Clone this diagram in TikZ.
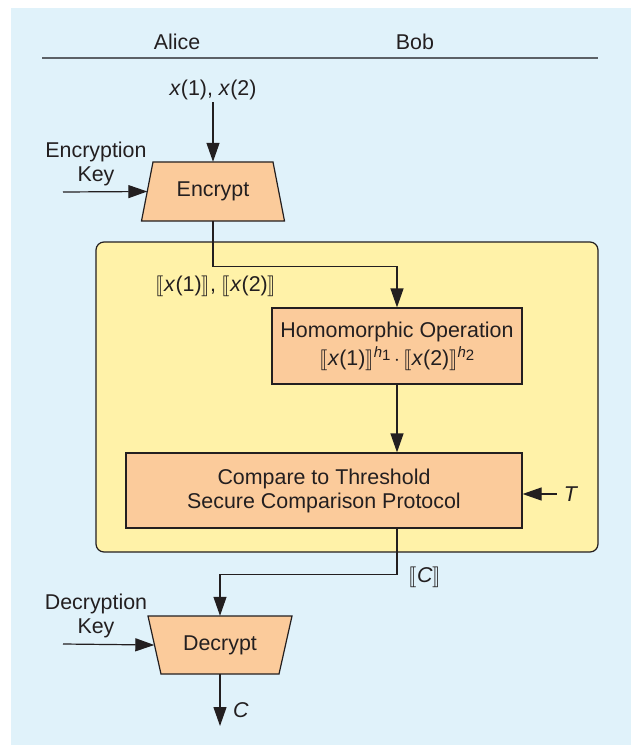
\documentclass[tikz,border=0pt]{standalone}
\usepackage{fontspec}
\setmainfont{Liberation Sans}
\usepackage{stmaryrd}
\usetikzlibrary{arrows.meta}
\definecolor{bgblue}{HTML}{E0F2FA}
\definecolor{zoneyellow}{HTML}{FFF2A8}
\definecolor{boxorange}{HTML}{FBCB9B}
\definecolor{ink}{HTML}{231F20}
\definecolor{rulegray}{HTML}{5C6166}
\newcommand{\lbk}{\ensuremath{\llbracket}}
\newcommand{\rbk}{\ensuremath{\rrbracket}}
\newcommand{\hexp}[1]{\raisebox{8pt}{\fontsize{15}{15}\selectfont\textit{h}\raisebox{-3pt}{#1}}}
\begin{document}
\begin{tikzpicture}[x=1pt,y=-1pt,
  txt/.style={text=ink,font=\fontsize{21.4}{24}\selectfont,inner sep=2pt,align=center},
  blockbox/.style={draw=ink,line width=1.2pt,fill=boxorange,txt,inner sep=0pt},
  holder/.style={txt,inner sep=0pt},
  arr/.style={draw=ink,line width=1.2pt,-{Triangle[length=19pt,width=13pt]}},
  wire/.style={draw=ink,line width=1.2pt}]
\useasboundingbox (0,0) rectangle (635,746);
\fill[bgblue] (11,8) rectangle (631,745);

% party header
\node[txt] (alice) at (177,42) {Alice};
\node[txt] (bob) at (415,42) {Bob};
\draw[rulegray,line width=2pt] (42,58) -- (598,58);

% Bob's secure zone
\draw[ink,line width=1.2pt,fill=zoneyellow,rounded corners=8pt] (96,242) rectangle (598,552);

% encryption stage
\filldraw[draw=ink,line width=1.2pt,fill=boxorange]
  (153,162) -- (273,162) -- (284.5,221) -- (141.5,221) -- cycle;
\node[holder,minimum width=131pt,minimum height=59pt] (enc) at (213,191.5) {Encrypt};
\node[txt] (inp) at (213,90) {\textit{x}(1), \textit{x}(2)};
\node[txt,align=center] (ekeylbl) at (96,164) {Encryption\\Key};
\coordinate (ekey) at (63,192);

% homomorphic operation
\node[blockbox,minimum width=250pt,minimum height=76pt] (hom) at (397,346)
  {Homomorphic Operation\\[4pt]
   \lbk\textit{x}(1)\rbk\hexp{1}\,$\cdot$\,\lbk\textit{x}(2)\rbk\hexp{2}};
\node[txt] (enclbl) at (216,286) {\lbk\textit{x}(1)\rbk, \lbk\textit{x}(2)\rbk};

% threshold comparison
\node[blockbox,minimum width=396pt,minimum height=75pt] (cmp) at (324,490.5)
  {Compare to Threshold\\Secure Comparison Protocol};
\node[txt,inner sep=1pt] (thr) at (571,494) {\textit{T}};

% decryption stage
\filldraw[draw=ink,line width=1.2pt,fill=boxorange]
  (148,616) -- (292,616) -- (279,674) -- (161,674) -- cycle;
\node[holder,minimum width=131pt,minimum height=58pt] (dec) at (220,645) {Decrypt};
\node[txt,align=center] (dkeylbl) at (96,616) {Decryption\\Key};
\coordinate (dkey) at (63,644);
\node[txt] (clbl) at (425,577) {\lbk\textit{C}\rbk};
\node[txt] (outlbl) at (241,710) {\textit{C}};
\coordinate (out) at (220,726);

% connectors
\draw[arr] (inp.south) -- (enc.north);
\draw[arr] (ekey) -- (enc.west);
\draw[arr] (enc.south) -- ++(0,45) -| (hom.north);
\draw[arr] (hom.south) -- (hom.south |- cmp.north);
\draw[arr] (thr.west) ++(-6,0) -- (thr.west -| cmp.east);
\draw[arr] (cmp.south -| hom.south) -- ++(0,46) -| (dec.north);
\draw[arr] (dkey) -- (dec.west);
\draw[arr] (dec.south) -- (out);
\end{tikzpicture}
\end{document}
